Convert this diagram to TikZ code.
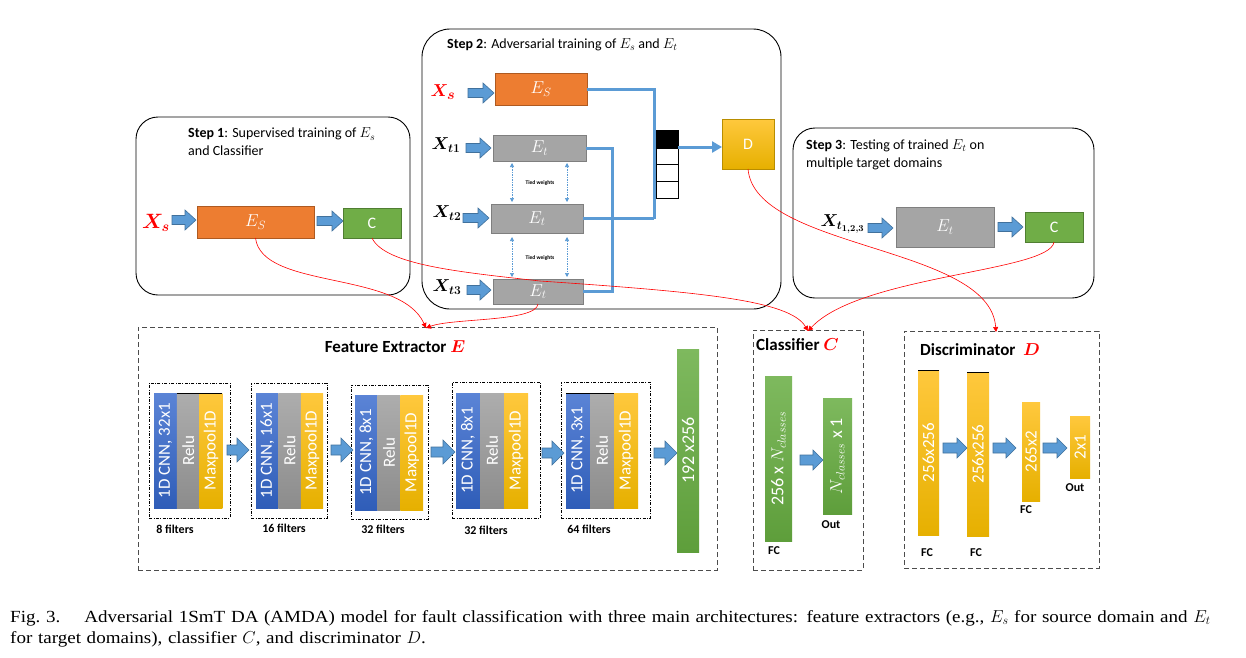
\documentclass[tikz,border=0pt]{standalone}
\usepackage{amsmath}
\usepackage{fontspec}
\setmainfont{Carlito}
\newfontfamily\capfont[FakeStretch=1.12]{Liberation Serif}
\usepackage{bm}
\usetikzlibrary{arrows.meta,calc}
\definecolor{arrblue}{HTML}{5B9BD5}
\definecolor{arrblueD}{HTML}{41719C}
\definecolor{orng}{HTML}{ED7D31}
\definecolor{orngD}{HTML}{AE5A21}
\definecolor{gbox}{HTML}{A5A5A5}
\definecolor{gboxD}{HTML}{7F7F7F}
\definecolor{grn}{HTML}{70AD47}
\definecolor{grnD}{HTML}{507E32}
\definecolor{ylT}{HTML}{FFC83D}
\definecolor{ylB}{HTML}{E6B000}
\definecolor{blT}{HTML}{5B84D6}
\definecolor{blB}{HTML}{2F5DB8}
\definecolor{gyT}{HTML}{ADADAD}
\definecolor{gyB}{HTML}{8C8C8C}
\definecolor{gnT}{HTML}{7EB95E}
\definecolor{gnB}{HTML}{5E9E3B}
\newcommand\fsz[2]{\fontsize{#1}{#2}\selectfont}
\newcommand\bx[7]{\node[#6, inner sep=0pt, outer sep=0pt, minimum width={(#4)-(#2)}, minimum height={(#5)-(#3)}] (#1) at ({((#2)+(#4))/2},{((#3)+(#5))/2}) {#7};}
\newcommand\barr[6]{\draw[barrow] (#1,{#3-#4}) -- ({#2-#6},{#3-#4}) -- ({#2-#6},{#3-#5}) -- (#2,#3) -- ({#2-#6},{#3+#5}) -- ({#2-#6},{#3+#4}) -- (#1,{#3+#4}) -- cycle;}
\newcommand\cnn[9]{%
 \bx{#1o}{#2}{#3}{#4}{#5}{ddbox}{}
 \bx{#1a}{#6}{#8}{#6+#7}{#8+115}{stripe, top color=blT, bottom color=blB}{}
 \bx{#1b}{#6+#7}{#8}{#6+2*#7}{#8+115}{stripe, top color=gyT, bottom color=gyB}{}
 \bx{#1c}{#6+2*#7}{#8}{#6+3*#7}{#8+115}{stripe, top color=ylT, bottom color=ylB}{}
 \node[stxt] (#1at) at (#1a) {1D CNN, #9};
 \node[stxt] (#1bt) at (#1b) {Relu};
 \node[stxt] (#1ct) at (#1c) {Maxpool1D};
}
\tikzset{
  stepbox/.style={draw=black, line width=0.9pt, rounded corners=22pt},
  barrow/.style={fill=arrblue, draw=arrblueD, line width=0.6pt},
  bline/.style={draw=arrblue, line width=3pt},
  obox/.style={fill=orng, draw=orngD, line width=0.8pt, text=white, font=\fsz{18}{18}},
  gyb/.style={fill=gbox, draw=gboxD, line width=0.8pt, text=white, font=\fsz{18}{18}},
  gnb/.style={fill=grn, draw=grnD, line width=0.8pt, text=white, font=\fsz{16}{16}},
  cell/.style={draw=black, line width=0.8pt, fill=white},
  tied/.style={draw=arrblue, dash pattern=on 1.5pt off 1pt, line width=0.7pt, arrows={Triangle[length=4pt,width=4pt]-Triangle[length=4pt,width=4pt]}},
  redc/.style={draw=red, line width=0.6pt, arrows={-Triangle[length=5pt,width=5pt]}},
  ddbox/.style={draw=black, line width=0.6pt, dash pattern=on 3pt off 1.5pt on 0.8pt off 1.5pt},
  archbox/.style={draw=black!70, line width=1pt, dash pattern=on 5pt off 3pt},
  stripe/.style={draw=none},
  stxt/.style={rotate=90, text=white, inner sep=0pt, font=\fsz{17}{17}},
  lbl/.style={font=\bfseries\fsz{12}{12}, inner sep=0pt},
  ttl/.style={anchor=west, align=left, inner sep=0pt, font=\fsz{14}{18}},
  xin/.style={inner sep=0pt, font=\fsz{19}{19}},
}
\begin{document}
\begin{tikzpicture}[x=1pt,y=-1pt]
\useasboundingbox (0,0) rectangle (1246,657);
\fill[white] (0,0) rectangle (1246,657);

% ---------- Step 1 ----------
\bx{s1box}{136}{117}{410}{295}{stepbox}{}
\node[ttl] (s1t) at (188,142) {\textbf{Step 1}: Supervised training of $E_s$\\and Classifier};
\node[xin, text=red, font=\fsz{22}{22}] (xs1) at (156,223) {$\bm{X_s}$};
\barr{172}{196}{220}{4.5}{10}{11}
\bx{es1}{197}{206}{314}{238}{obox}{$E_S$}
\barr{317}{343}{221}{4.5}{10}{11}
\bx{c1}{343}{208}{401}{238}{gnb}{C}

% ---------- Step 2 ----------
\bx{s2box}{422}{29}{781}{309}{stepbox, rounded corners=28pt}{}
\node[ttl] (s2t) at (447,45) {\textbf{Step 2}: Adversarial training of $E_s$ and $E_t$};
\node[xin, text=red] (xs2) at (443,92) {$\bm{X_s}$};
\barr{468}{494}{93}{4.5}{10}{11}
\bx{es2}{495}{73}{587}{105}{obox}{$E_S$}
\node[xin, font=\fsz{18}{18}] (xt1) at (446,145) {$\bm{X_{t1}}$};
\barr{466}{491}{148}{4.5}{10}{11}
\bx{et1}{493}{135}{586}{161}{gyb}{$E_t$}
\node[xin, font=\fsz{18}{18}] (xt2) at (447,213) {$\bm{X_{t2}}$};
\barr{463}{489}{218}{4.5}{10}{11}
\bx{et2}{491}{204}{583}{233}{gyb}{$E_t$}
\node[xin, font=\fsz{18}{18}] (xt3) at (447,287) {$\bm{X_{t3}}$};
\barr{467}{491}{290}{4.5}{10}{11}
\bx{et3}{493}{279}{583}{304}{gyb}{$E_t$}
% tied weights
\coordinate (tx1) at (512,0);
\coordinate (tx2) at (567,0);
\draw[tied, shorten <=2pt, shorten >=2pt] (et1.south -| tx1) -- (et2.north -| tx1);
\draw[tied, shorten <=2pt, shorten >=2pt] (et1.south -| tx2) -- (et2.north -| tx2);
\draw[tied, shorten <=4pt, shorten >=2pt] (et2.south -| tx1) -- (et3.north -| tx1);
\draw[tied, shorten <=4pt, shorten >=2pt] (et2.south -| tx2) -- (et3.north -| tx2);
\node[inner sep=0pt, font=\bfseries\fsz{5.5}{6}] (tw1) at (540,183) {Tied weights};
\node[inner sep=0pt, font=\bfseries\fsz{5.5}{6}] (tw2) at (540,258) {Tied weights};
% feature lines
\coordinate (jn) at (654,218.5);
\coordinate (lp) at (612,291.5);
\draw[bline] (es2.east) -| (jn);
\draw[bline] (et2.east) -- (jn);
\draw[bline] (et1.east) -| (lp) -- (et3.east);
% stack
\bx{q1}{656}{130}{678}{148}{cell, fill=black}{}
\bx{q2}{656}{148}{678}{164}{cell}{}
\bx{q3}{656}{164}{678}{181}{cell}{}
\bx{q4}{656}{181}{678}{198}{cell}{}
\bx{d}{722}{119}{774}{169}{draw=ylB!80!black, line width=0.6pt, top color=ylT, bottom color=ylB, text=white, font=\fsz{16}{16}}{D}
\coordinate (sa) at (678,147);
\draw[bline, arrows={-Triangle[length=10pt,width=11pt]}] (sa) -- (d.west |- sa);

% ---------- Step 3 ----------
\bx{s3box}{793}{128}{1094}{298}{stepbox}{}
\node[ttl] (s3t) at (806,154.5) {\textbf{Step 3}: Testing of trained $E_t$ on\\multiple target domains};
\node[xin, font=\fsz{18}{18}, anchor=east] (xt4) at (865,224) {$\bm{X_{t_{1,2,3}}}$};
\barr{868}{893}{228}{4.5}{10}{11}
\bx{et4}{896}{207}{994}{247}{gyb}{$E_t$}
\barr{998}{1023}{227}{4.5}{10}{11}
\bx{c3}{1025}{212}{1083}{242}{gnb}{C}

% ---------- Feature extractor ----------
\bx{fe}{138}{327}{717}{570}{archbox}{}
\node[inner sep=0pt, font=\bfseries\fsz{17}{17}] (fet) at (395,347) {Feature Extractor \textcolor{red}{$\bm{E}$}};
\cnn{b1}{149}{383}{230}{518}{154}{22.8}{393}{32x1}
\cnn{b2}{251}{383}{327}{518}{256}{22.4}{393}{16x1}
\cnn{b3}{351}{385}{428}{519}{355}{22.7}{395}{8x1}
\cnn{b4}{452}{382}{540}{518}{456}{24}{393}{8x1}
\cnn{b5}{561}{382}{650}{518}{566}{24}{393}{3x1}
\draw[black, line width=0.9pt] (b1b.north west) -- (b1c.north east);
\draw[black, line width=0.9pt] (b5a.north west) -- (b5b.north east);
\node[lbl] (f1) at (175,529) {8 filters};
\node[lbl] (f2) at (284,528) {16 filters};
\node[lbl] (f3) at (383,529) {32 filters};
\node[lbl] (f4) at (486,530) {32 filters};
\node[lbl] (f5) at (589,529) {64 filters};
\barr{227}{249}{450}{5}{12}{12}
\barr{331}{353}{450}{5}{12}{12}
\barr{431}{455}{452}{5}{12}{12}
\barr{542}{564}{453}{5}{12}{12}
\barr{654}{677}{453}{5}{12}{12}
\bx{g1}{677}{349}{699}{552}{stripe, top color=gnT, bottom color=gnB}{}
\node[stxt, font=\fsz{18}{18}] (g1t) at (g1) {192 x256};

% ---------- Classifier ----------
\bx{cl}{753}{330}{863}{570}{archbox}{}
\node[anchor=west, inner sep=0pt, font=\bfseries\fsz{17}{17}] (clt) at (756,345) {Classifier \textcolor{red}{$\bm{C}$}};
\bx{fc1}{765}{376}{792}{541}{stripe, top color=gnT, bottom color=gnB}{}
\node[stxt, font=\fsz{18}{18}] (fc1t) at (fc1) {256 x $N_{classes}$};
\bx{out1}{823}{398}{852}{514}{stripe, top color=gnT, bottom color=gnB}{}
\node[stxt, font=\fsz{18}{18}] (out1t) at (out1) {$N_{classes}$ x 1};
\barr{800}{823}{460}{5}{10}{10}
\node[lbl] (fcl1) at (774,551) {FC};
\node[lbl] (outl1) at (831,525) {Out};

% ---------- Discriminator ----------
\bx{di}{904}{331}{1099}{568}{archbox}{}
\node[anchor=west, inner sep=0pt, font=\bfseries\fsz{17}{17}] (dit) at (920,350) {Discriminator \ \textcolor{red}{$\bm{D}$}};
\bx{d1}{918}{370}{939}{535}{stripe, top color=ylT, bottom color=ylB}{}
\bx{d2}{967}{372}{989}{536}{stripe, top color=ylT, bottom color=ylB}{}
\bx{d3}{1022}{402}{1040}{501}{stripe, top color=ylT, bottom color=ylB}{}
\bx{d4}{1070}{416}{1090}{478}{stripe, top color=ylT, bottom color=ylB}{}
\draw[black, line width=0.9pt] (d1.north west) -- (d1.north east);
\draw[black, line width=0.9pt] (d2.north west) -- (d2.north east);
\node[stxt, font=\fsz{17}{17}] (d1t) at (d1) {256x256};
\node[stxt, font=\fsz{17}{17}] (d2t) at (d2) {256x256};
\node[stxt, font=\fsz{17}{17}] (d3t) at (d3) {265x2};
\node[stxt, font=\fsz{17}{17}] (d4t) at (d4) {2x1};
\barr{943}{967}{448}{5}{10}{10}
\barr{993}{1016}{448}{5}{10}{10}
\barr{1043}{1067}{448}{5}{10}{10}
\node[lbl] (dl1) at (927,553) {FC};
\node[lbl] (dl2) at (976,553) {FC};
\node[lbl] (dl3) at (1026,510) {FC};
\node[lbl] (dl4) at (1075,488) {Out};

% ---------- red links ----------
\coordinate (feIn) at (426,328);
\coordinate (clIn) at (808,331);
\coordinate (diIn) at (996,332);
\draw[redc] (es1.south) .. controls (262,290) and (400,270) .. (feIn);
\draw[redc] (et3.south) .. controls (536,322) and (452,318) .. (feIn);
\draw[redc] (c1.south) .. controls (385,265) and (460,272) .. (540,281) .. controls (700,292) and (790,300) .. (clIn);
\draw[redc] (c3.south) .. controls (1050,272) and (860,275) .. (clIn);
\draw[redc] (d.south) .. controls (755,250) and (990,245) .. (diIn);

% ---------- caption ----------
\node[anchor=north west, inner sep=0pt, align=left, text width=1226pt, font=\capfont\fsz{17}{21}] (cap) at (10,610) {\makebox[1226pt][s]{Fig.~3.\hspace*{24pt}Adversarial 1SmT DA (AMDA) model for fault classification with three main architectures: feature extractors (e.g., $E_s$ for source domain and $E_t$}\\for target domains), classifier $C$, and discriminator $D$.};
\end{tikzpicture}
\end{document}
